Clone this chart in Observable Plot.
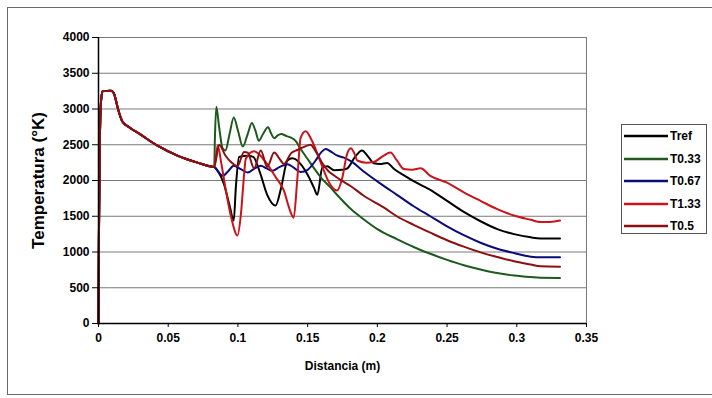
<!DOCTYPE html>
<html>
<head>
<meta charset="utf-8">
<script src="https://cdn.jsdelivr.net/npm/d3@7"></script>
<script src="https://cdn.jsdelivr.net/npm/@observablehq/plot@0.6"></script>
<style>
  html, body { margin: 0; padding: 0; background: #fff; }
  #wrap { position: relative; width: 712px; height: 398px; overflow: hidden; font-family: "Liberation Sans", Arial, sans-serif; }
  #outer { position: absolute; left: 7px; top: 7px; width: 720px; height: 386px; border: 1px solid #6a6a6a; pointer-events: none; }
  #legend { position: absolute; left: 621px; top: 124px; width: 86px; height: 110px; border: 1px solid #555; background: #fff; box-sizing: border-box; }
  .item { position: absolute; left: 0; height: 16px; display: flex; align-items: center; font-weight: bold; font-size: 12px; color: #000; }
  .item svg { margin-left: 2px; margin-right: 2px; }
</style>
</head>
<body>
<div id="wrap">
  <div id="chart"></div>
  <div id="outer"></div>
  <div id="legend"></div>
</div>
<script>
// ---- data ----
const seriesNames = ["Tref", "T0.33", "T0.67", "T1.33", "T0.5"];
const seriesColors = ["#000000", "#1e5a1e", "#0a0a78", "#c8141a", "#8c0f12"];

const xTicks = [0, 0.05, 0.1, 0.15, 0.2, 0.25, 0.3, 0.35];
const xTickLabels = ["0", "0.05", "0.1", "0.15", "0.2", "0.25", "0.3", "0.35"];
const yTicks = [0, 500, 1000, 1500, 2000, 2500, 3000, 3500, 4000];
const yTickLabels = ["0", "500", "1000", "1500", "2000", "2500", "3000", "3500", "4000"];

// shared initial part (all series identical)
const commonX = [0, 0.0003, 0.001, 0.002, 0.003, 0.009, 0.011, 0.014, 0.017, 0.022, 0.03, 0.042, 0.057, 0.071, 0.081, 0.083];
const commonY = [0, 1200, 2600, 3150, 3250, 3255, 3220, 3000, 2830, 2745, 2645, 2490, 2345, 2250, 2195, 2190];

const trefX = [0.086, 0.09, 0.094, 0.097, 0.0985, 0.1008, 0.107, 0.111, 0.116, 0.121, 0.127, 0.131, 0.1355, 0.139, 0.145, 0.15, 0.1545, 0.157, 0.1605, 0.164, 0.169, 0.175, 0.1785, 0.184, 0.189, 0.1935, 0.1975, 0.202, 0.207, 0.212, 0.22, 0.226, 0.238, 0.25, 0.262, 0.274, 0.286, 0.298, 0.31, 0.317, 0.331];
const trefY = [2120, 1950, 1650, 1440, 1900, 2330, 2345, 2330, 2100, 1800, 1650, 1900, 2280, 2310, 2230, 2080, 1900, 1800, 2180, 2200, 2145, 2150, 2170, 2330, 2420, 2330, 2240, 2230, 2245, 2160, 2060, 1990, 1870, 1715, 1560, 1430, 1320, 1250, 1205, 1190, 1190];

const t033X = [0.0835, 0.0845, 0.0865, 0.089, 0.091, 0.094, 0.097, 0.1, 0.1035, 0.107, 0.11, 0.1125, 0.115, 0.118, 0.1215, 0.124, 0.126, 0.1285, 0.131, 0.135, 0.138, 0.1415, 0.145, 0.15, 0.155, 0.16, 0.166, 0.172, 0.181, 0.19, 0.2, 0.214, 0.226, 0.238, 0.25, 0.262, 0.274, 0.286, 0.298, 0.31, 0.317, 0.331];
const t033Y = [2600, 3030, 2750, 2450, 2420, 2650, 2880, 2700, 2475, 2650, 2805, 2700, 2555, 2650, 2745, 2650, 2590, 2630, 2650, 2620, 2600, 2550, 2440, 2300, 2160, 2030, 1910, 1780, 1600, 1460, 1320, 1180, 1070, 975, 890, 815, 755, 705, 672, 650, 640, 638];

const t067X = [0.086, 0.089, 0.093, 0.097, 0.102, 0.107, 0.112, 0.1164, 0.1205, 0.1247, 0.13, 0.1355, 0.14, 0.145, 0.15, 0.1557, 0.16, 0.163, 0.167, 0.171, 0.176, 0.181, 0.19, 0.202, 0.214, 0.226, 0.238, 0.25, 0.262, 0.274, 0.286, 0.298, 0.31, 0.317, 0.331];
const t067Y = [2120, 2065, 2130, 2205, 2160, 2112, 2170, 2205, 2170, 2135, 2190, 2228, 2180, 2120, 2150, 2280, 2400, 2440, 2400, 2350, 2320, 2270, 2130, 1960, 1800, 1640, 1500, 1360, 1235, 1130, 1045, 985, 935, 925, 925];

const t133X = [0.0855, 0.088, 0.091, 0.095, 0.0997, 0.102, 0.1045, 0.1056, 0.1116, 0.116, 0.121, 0.127, 0.133, 0.137, 0.14, 0.1425, 0.145, 0.1486, 0.1525, 0.1557, 0.1617, 0.166, 0.171, 0.175, 0.178, 0.181, 0.1835, 0.1856, 0.192, 0.1975, 0.204, 0.2094, 0.214, 0.219, 0.225, 0.231, 0.238, 0.25, 0.262, 0.274, 0.286, 0.298, 0.31, 0.317, 0.324, 0.331];
const t133Y = [2490, 2250, 1900, 1500, 1231, 1500, 2100, 2300, 2410, 2350, 2228, 2050, 1857, 1600, 1480, 2000, 2600, 2690, 2580, 2440, 2135, 1950, 1860, 2050, 2350, 2450, 2380, 2280, 2250, 2260, 2340, 2390, 2280, 2160, 2150, 2170, 2065, 1970, 1835, 1715, 1600, 1510, 1450, 1418, 1420, 1440];

const t05X = [0.0865, 0.091, 0.0955, 0.0997, 0.1044, 0.107, 0.1116, 0.1164, 0.121, 0.126, 0.13, 0.133, 0.138, 0.143, 0.1475, 0.152, 0.156, 0.16, 0.165, 0.169, 0.175, 0.181, 0.19, 0.2048, 0.214, 0.226, 0.238, 0.25, 0.262, 0.274, 0.286, 0.298, 0.31, 0.317, 0.331];
const t05Y = [2500, 2350, 2250, 2200, 2400, 2390, 2170, 2420, 2190, 2390, 2300, 2230, 2380, 2430, 2470, 2500, 2400, 2260, 2130, 2070, 1990, 1920, 1790, 1620, 1500, 1380, 1270, 1165, 1075, 995, 930, 870, 825, 800, 795];

// ---- build table ----
const seriesX = [trefX, t033X, t067X, t133X, t05X];
const seriesY = [trefY, t033Y, t067Y, t133Y, t05Y];
const rows = [];
seriesNames.forEach((name, i) => {
  commonX.forEach((x, j) => rows.push({series: name, x, y: commonY[j]}));
  seriesX[i].forEach((x, j) => rows.push({series: name, x, y: seriesY[i][j]}));
});

const fontFam = "'Liberation Sans', Arial, sans-serif";
const chart = Plot.plot({
  width: 712,
  height: 398,
  marginLeft: 98,
  marginRight: 126,
  marginTop: 37,
  marginBottom: 75,
  style: {background: "transparent", fontFamily: fontFam},
  x: {domain: [0, 0.35]},
  y: {domain: [0, 4000]},
  color: {domain: seriesNames, range: seriesColors},
  marks: [
    Plot.gridY(yTicks, {stroke: "#7a7a7a", strokeOpacity: 1, strokeWidth: 1}),
    Plot.ruleX([0.35], {stroke: "#7a7a7a", strokeWidth: 1}),
    Plot.line(rows, {x: "x", y: "y", z: "series", stroke: "series", strokeWidth: 2, curve: "monotone-x"}),
    Plot.ruleY([0], {stroke: "#000", strokeWidth: 1.5}),
    Plot.ruleX([0], {stroke: "#000", strokeWidth: 1.5}),
    Plot.axisX(xTicks, {tickFormat: (d, i) => xTickLabels[i], tickSize: 4, tickPadding: 6, fontSize: 12, fontWeight: "bold", label: null, stroke: "#000"}),
    Plot.axisY(yTicks, {tickFormat: (d, i) => yTickLabels[i], tickSize: 6, tickPadding: 3, fontSize: 12, fontWeight: "bold", label: null, stroke: "#000"}),
    Plot.text(["Temperatura (°K)"], {frameAnchor: "left", textAnchor: "middle", lineAnchor: "middle", dx: -60, rotate: -90, fontSize: 17, fontWeight: "bold", fill: "#000"}),
    Plot.text(["Distancia (m)"], {frameAnchor: "bottom", textAnchor: "middle", dy: 46, fontSize: 12, fontWeight: "bold", fill: "#000"})
  ]
});
document.getElementById("chart").appendChild(chart);

// ---- legend ----
const legend = document.getElementById("legend");
seriesNames.forEach((name, i) => {
  const d = document.createElement("div");
  d.className = "item";
  d.style.top = (3 + i * 22.5) + "px";
  d.innerHTML = `<svg width="44" height="6"><line x1="0" y1="3" x2="44" y2="3" stroke="${seriesColors[i]}" stroke-width="2.5"/></svg><span>${name}</span>`;
  legend.appendChild(d);
});
</script>
</body>
</html>
